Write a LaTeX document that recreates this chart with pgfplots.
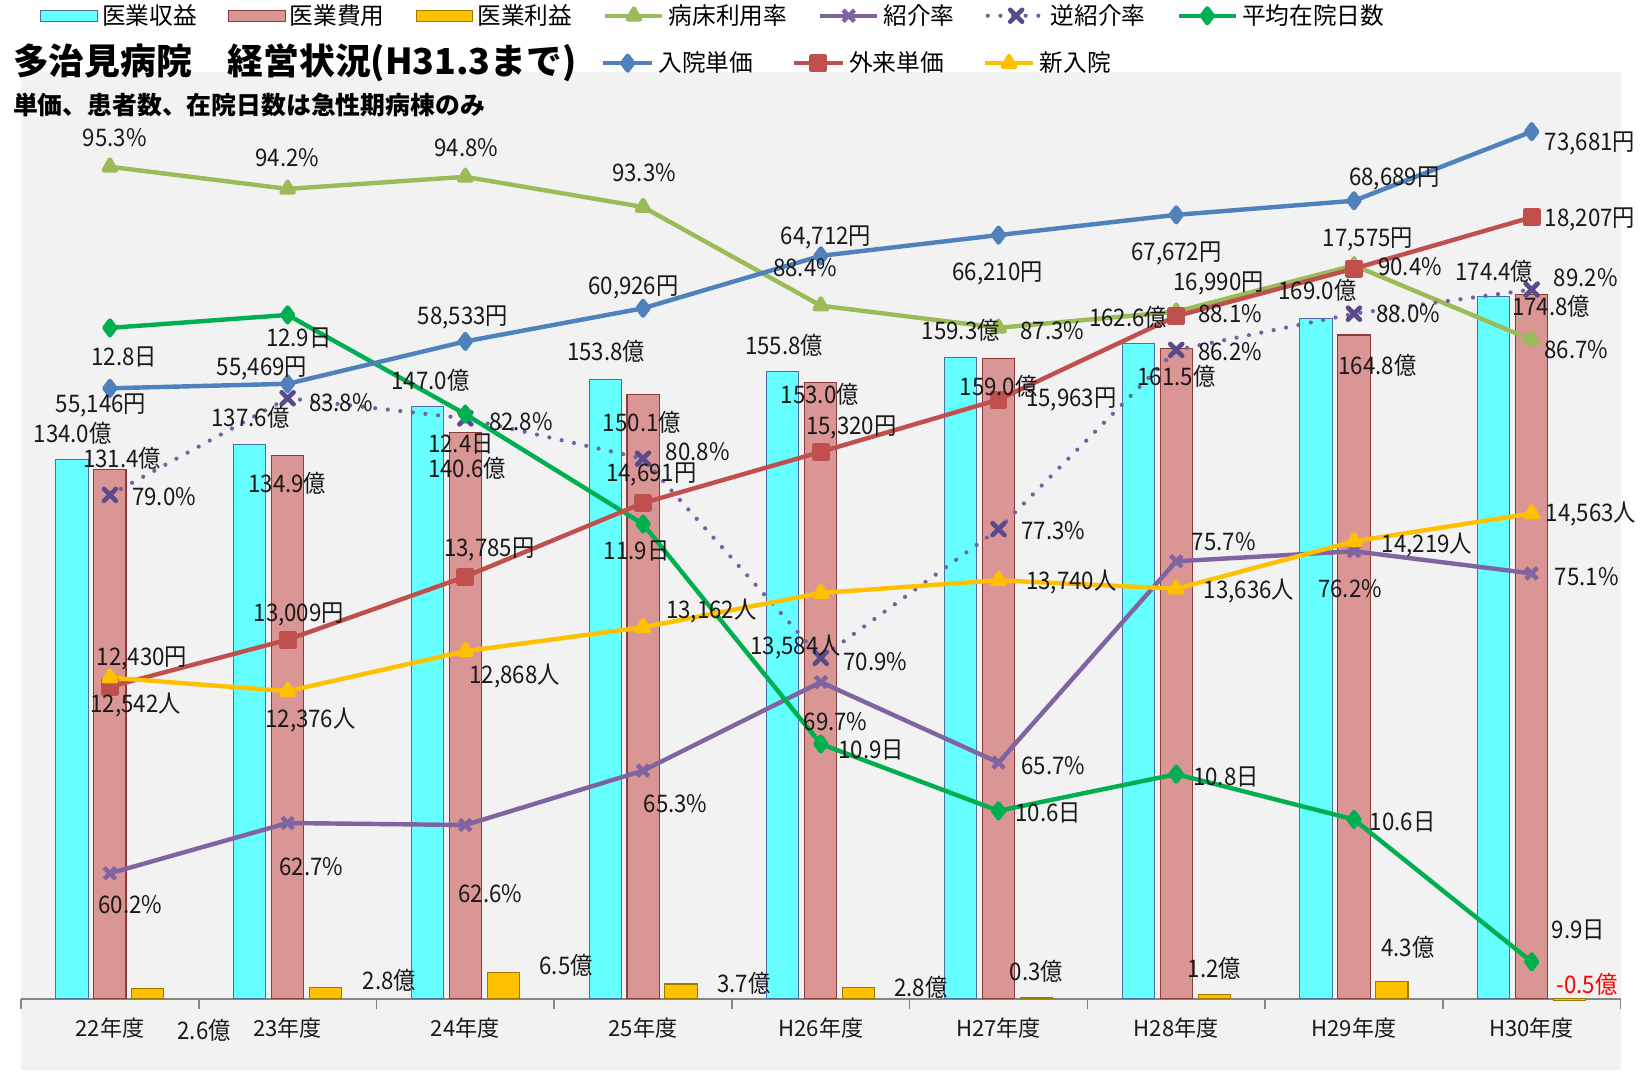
\documentclass[border=0pt]{standalone}
\usepackage{pgfplots}
\pgfplotsset{compat=1.18}
\usepackage{fontspec}
\setmainfont{Noto Sans CJK JP}
\newfontfamily\lblfont[FakeStretch=0.92]{Noto Sans CJK JP}
\newcommand\lblsize{\lblfont\fontsize{11.5}{13}\selectfont}
\newcommand\legfont{\fontsize{11.25}{13}\selectfont}
\newcommand\catfont{\fontsize{10.5}{12}\selectfont}

\definecolor{cbar}{HTML}{66FFFF}
\definecolor{cbarb}{HTML}{4A6FA5}
\definecolor{pbar}{HTML}{D99694}
\definecolor{pbarb}{HTML}{8C3B3A}
\definecolor{obar}{HTML}{FFC000}
\definecolor{obarb}{HTML}{9C7A00}
\definecolor{bedc}{HTML}{9BBB59}
\definecolor{refc}{HTML}{8064A2}
\definecolor{revc}{HTML}{7262A0}
\definecolor{revm}{HTML}{5B4A8A}
\definecolor{stayc}{HTML}{00B050}
\definecolor{inc}{HTML}{4F81BD}
\definecolor{outc}{HTML}{C0504D}
\definecolor{newc}{HTML}{FFC000}
\definecolor{bgc}{HTML}{F2F2F2}
\definecolor{axc}{HTML}{868686}

\pgfplotsset{
  base/.style={scale only axis, width=760pt, height=474.5pt,
    at={(10pt,-508.5pt)}, anchor=south west, xmin=-0.5, xmax=8.5},
  hidden/.style={base, hide axis},
  barleg/.style={legend image code/.code={\draw[##1] (0pt,-2.75pt) rectangle (27pt,2.75pt);}},
  lineleg/.style={legend image code/.code={\draw[mark repeat=2,mark phase=2,##1] plot coordinates {(0pt,0pt) (13.5pt,0pt) (27pt,0pt)};}},
  lineleg2/.style={legend image code/.code={\draw[mark repeat=2,mark phase=2,##1] plot coordinates {(0pt,0pt) (11.5pt,0pt) (23pt,0pt)};}},
  legbase/.style={legend style={draw=none, fill=none, inner sep=0pt, font=\legfont,
    legend columns=-1, legend cell align=left}},
  sline/.style={line width=2.1pt, line join=round},
  revstyle/.style={line width=2pt, color=revc, dash pattern=on 0pt off 6pt, line cap=round,
    mark=x, mark size=4pt, mark options={solid, line width=2.2pt, draw=revm}},
}

\newcommand{\dl}[3]{\node[font=\lblsize, text=black!90, inner sep=0pt] at (#1*0.5pt, -#2*0.5pt) {#3};}

\begin{document}
\begin{tikzpicture}
\fill[white] (0pt,0pt) rectangle (784pt,-510pt);
\useasboundingbox (0pt,0pt) rectangle (784pt,-510pt);

% ---- bars + category axis + legend row 1
\begin{axis}[base,
  axis background/.style={fill=bgc},
  ymin=-17.69, ymax=230.2,
  axis x line=middle, axis y line=none,
  hide obscured x ticks=false,
  x axis line style={-, draw=axc, line width=0.8pt},
  xtick={0,...,8},
  xticklabels={22年度,23年度,24年度,25年度,H26年度,H27年度,H28年度,H29年度,H30年度},
  major tick length=0pt,
  minor xtick={-0.5,0.5,...,8.5},
  minor tick length=5pt,
  minor x tick style={draw=axc, line width=0.8pt},
  tick align=outside,
  xticklabel style={font=\catfont, anchor=center, yshift=-14pt, text=black!90},
  legbase,
  legend style={at={(0.01184,1.0559)}, anchor=west,
    /tikz/every even column/.append style={column sep=12.75pt}},
]
\addlegendimage{barleg, fill=cbar, draw=cbarb}
\addlegendentry{医業収益}
\addlegendimage{barleg, fill=pbar, draw=pbarb}
\addlegendentry{医業費用}
\addlegendimage{barleg, fill=obar, draw=obarb}
\addlegendentry{医業利益}
\addlegendimage{lineleg, sline, color=bedc, mark=triangle*, mark size=3.4pt}
\addlegendentry{病床利用率}
\addlegendimage{lineleg, sline, color=refc, mark=x, mark size=3.8pt}
\addlegendentry{紹介率}
\addlegendimage{lineleg, revstyle}
\addlegendentry{逆紹介率\hspace{33.5pt}}
\addlegendimage{lineleg, sline, color=stayc, mark=diamond*, mark size=3.5pt}
\addlegendentry{平均在院日数}

\addplot[ybar, bar width=0.181, bar shift=-0.2136, fill=cbar, draw=cbarb, line width=0.5pt, forget plot]
  coordinates {(0,134.0) (1,137.6) (2,147.0) (3,153.8) (4,155.8) (5,159.3) (6,162.6) (7,169.0) (8,174.4)};
\addplot[ybar, bar width=0.181, bar shift=0, fill=pbar, draw=pbarb, line width=0.5pt, forget plot]
  coordinates {(0,131.4) (1,134.9) (2,140.6) (3,150.1) (4,153.0) (5,159.0) (6,161.5) (7,164.8) (8,174.8)};
\addplot[ybar, bar width=0.181, bar shift=0.2136, fill=obar, draw=obarb, line width=0.5pt, forget plot]
  coordinates {(0,2.6) (1,2.8) (2,6.5) (3,3.7) (4,2.8) (5,0.3) (6,1.2) (7,4.3) (8,-0.5)};
\end{axis}

% ---- percentage axis
\begin{axis}[hidden, ymin=50.42, ymax=100.03]
\addplot[sline, color=bedc, mark=triangle*, mark size=3.4pt]
  coordinates {(0,95.3) (1,94.2) (2,94.8) (3,93.3) (4,88.4) (5,87.3) (6,88.1) (7,90.4) (8,86.7)};
\addplot[sline, color=refc, mark=x, mark size=3.8pt]
  coordinates {(0,60.2) (1,62.7) (2,62.6) (3,65.3) (4,69.7) (5,65.7) (6,75.7) (7,76.2) (8,75.1)};
\addplot[revstyle]
  coordinates {(0,79.0) (1,83.8) (2,82.8) (3,80.8) (4,70.9) (5,77.3) (6,86.2) (7,88.0) (8,89.2)};
\end{axis}

% ---- length of stay
\begin{axis}[hidden, ymin=9.397, ymax=14.029]
\addplot[sline, color=stayc, mark=diamond*, mark size=3.5pt]
  coordinates {(0,12.84) (1,12.9) (2,12.44) (3,11.93) (4,10.91) (5,10.6) (6,10.77) (7,10.56) (8,9.9)};
\end{axis}

% ---- inpatient unit price + legend row 2
\begin{axis}[hidden, ymin=5902, ymax=78020,
  legbase,
  legend style={at={(0.3625,1.00843)}, anchor=west,
    /tikz/every even column/.append style={column sep=16.5pt}},
]
\addplot[lineleg2, sline, color=inc, mark=diamond*, mark size=3.5pt]
  coordinates {(0,55146) (1,55469) (2,58533) (3,60926) (4,64712) (5,66210) (6,67672) (7,68689) (8,73681)};
\addlegendentry{入院単価}
\addlegendimage{lineleg2, sline, color=outc, mark=square*, mark size=3.2pt}
\addlegendentry{外来単価\hspace{-9pt}}
\addlegendimage{lineleg2, sline, color=newc, mark=triangle*, mark size=3.4pt}
\addlegendentry{新入院}
\end{axis}

% ---- outpatient unit price and new admissions
\begin{axis}[hidden, ymin=7712, ymax=20000]
\addplot[sline, color=outc, mark=square*, mark size=3.2pt]
  coordinates {(0,12430) (1,13009) (2,13785) (3,14691) (4,15320) (5,15963) (6,16990) (7,17575) (8,18207)};
\addplot[sline, color=newc, mark=triangle*, mark size=3.4pt]
  coordinates {(0,12542) (1,12376) (2,12868) (3,13162) (4,13584) (5,13740) (6,13636) (7,14219) (8,14563)};
\end{axis}

% ---- titles
\node[anchor=west, inner sep=0pt, font=\bfseries\fontsize{17}{20}\selectfont] at (12*0.5pt,-60*0.5pt) {多治見病院　経営状況(H31.3まで)};
\node[anchor=west, inner sep=0pt, font=\bfseries\fontsize{11.8}{14}\selectfont] at (12*0.5pt,-100*0.5pt) {単価、患者数、在院日数は急性期病棟のみ};

% ---- data labels
% revenue
\dl{69}{412}{134.0億}\dl{238}{397}{137.6億}\dl{409}{361}{147.0億}\dl{576}{334}{153.8億}\dl{745}{328}{155.8億}
\dl{913}{314}{159.3億}\dl{1072}{302}{162.6億}\dl{1252}{276}{169.0億}\dl{1420}{258}{174.4億}
% cost
\dl{116}{436}{131.4億}\dl{273}{459}{134.9億}\dl{444}{445}{140.6億}\dl{610}{401}{150.1億}\dl{779}{375}{153.0億}
\dl{949}{367}{159.0億}\dl{1118}{358}{161.5億}\dl{1309}{347}{164.8億}\dl{1474}{291}{174.8億}
% profit
\dl{194}{979}{2.6億}\dl{370}{932}{2.8億}\dl{538}{917}{6.5億}\dl{707}{934}{3.7億}\dl{875}{938}{2.8億}
\dl{985}{923}{0.3億}\dl{1154}{920}{1.2億}\dl{1338}{900}{4.3億}
\node[font=\lblsize, text=red, inner sep=0pt] at (1508*0.5pt,-935*0.5pt) {-0.5億};
% bed occupancy
\dl{109}{131}{95.3\%}\dl{273}{150}{94.2\%}\dl{443}{140}{94.8\%}\dl{612}{164}{93.3\%}\dl{765}{254}{88.4\%}
\dl{1000}{314}{87.3\%}\dl{1169}{298}{88.1\%}\dl{1340}{253}{90.4\%}\dl{1498}{332}{86.7\%}
% referral
\dl{124}{860}{60.2\%}\dl{296}{824}{62.7\%}\dl{466}{849}{62.6\%}\dl{642}{764}{65.3\%}\dl{794}{686}{69.7\%}
\dl{1001}{728}{65.7\%}\dl{1163}{515}{75.7\%}\dl{1283}{559}{76.2\%}\dl{1508}{548}{75.1\%}
% reverse referral
\dl{156}{472}{79.0\%}\dl{324}{383}{83.8\%}\dl{495}{401}{82.8\%}\dl{663}{429}{80.8\%}\dl{832}{629}{70.9\%}
\dl{1001}{504}{77.3\%}\dl{1169}{334}{86.2\%}\dl{1338}{298}{88.0\%}\dl{1507}{264}{89.2\%}
% length of stay
\dl{118}{339}{12.8日}\dl{284}{321}{12.9日}\dl{438}{422}{12.4日}\dl{605}{524}{11.9日}\dl{828}{713}{10.9日}
\dl{996}{773}{10.6日}\dl{1165}{738}{10.8日}\dl{1333}{781}{10.6日}\dl{1500}{884}{9.9日}
% inpatient price
\dl{96}{385}{55,146円}\dl{249}{350}{55,469円}\dl{440}{302}{58,533円}\dl{602}{273}{60,926円}\dl{785}{226}{64,712円}
\dl{948}{260}{66,210円}\dl{1118}{241}{67,672円}\dl{1325}{170}{68,689円}\dl{1511}{136}{73,681円}
% outpatient price
\dl{135}{626}{12,430円}\dl{284}{584}{13,009円}\dl{465}{522}{13,785円}\dl{619}{451}{14,691円}\dl{809}{406}{15,320円}
\dl{1018}{380}{15,963円}\dl{1158}{269}{16,990円}\dl{1300}{228}{17,575円}\dl{1511}{209}{18,207円}
% new admissions
\dl{129}{670}{12,542人}\dl{295}{684}{12,376人}\dl{489}{642}{12,868人}\dl{676}{581}{13,162人}\dl{756}{615}{13,584人}
\dl{1018}{553}{13,740人}\dl{1187}{562}{13,636人}\dl{1356}{518}{14,219人}\dl{1512}{488}{14,563人}
\end{tikzpicture}
\end{document}
